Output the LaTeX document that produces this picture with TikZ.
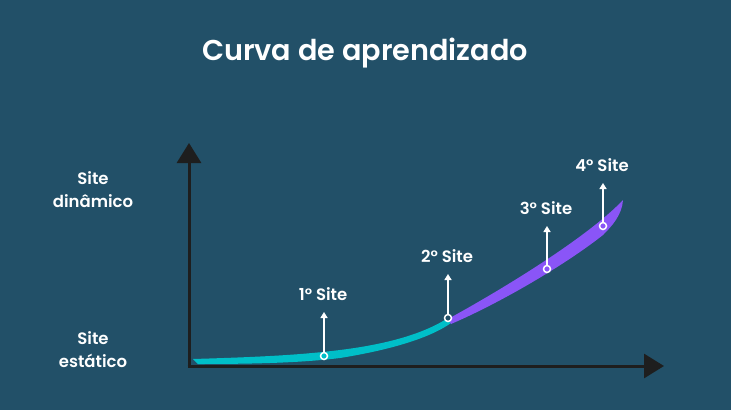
\documentclass[tikz,border=0pt]{standalone}
\usepackage{fontspec}
\setmainfont{Poppins}[BoldFont={Poppins SemiBold}]
\usetikzlibrary{arrows.meta}
\definecolor{bg}{RGB}{34,80,104}
\definecolor{axiscol}{RGB}{30,30,30}
\definecolor{tealc}{RGB}{0,191,200}
\definecolor{purplec}{RGB}{138,85,247}
\tikzset{
  axisline/.style={draw=axiscol, line width=3pt, -{Triangle[length=20pt,width=24pt]}},
  dot/.style={circle, draw=white, line width=1.5pt, minimum size=7pt, inner sep=0pt},
  pin/.style={draw=white, line width=1.5pt, -{Triangle[length=6pt,width=7pt]}},
  lbl/.style={text=white, font=\bfseries\fontsize{16.5}{19}\selectfont},
  side/.style={text=white, font=\bfseries\fontsize{16.5}{23}\selectfont, align=center},
}
\begin{document}
\begin{tikzpicture}[x=1pt,y=-1pt]
\fill[bg] (0,0) rectangle (731,410);
\useasboundingbox (0,0) rectangle (731,410);

\node[text=white, font=\bfseries\fontsize{28.7}{32}\selectfont] (title) at (365,53) {Curva de aprendizado};

% axes
\coordinate (O) at (189,366);
\coordinate (Ytop) at (189,143);
\coordinate (Xend) at (664,366);
\draw[axisline] (189,367.5) -- (Ytop);
\draw[axisline] (187.5,366) -- (Xend);

% teal band
\fill[tealc] (193,359) .. controls (260,357) and (300,355) .. (340,350)
  .. controls (380,345) and (420,336) .. (448,318) -- (451,323)
  .. controls (430,338) and (390,350) .. (340,358)
  .. controls (300,363) and (250,364) .. (198,364) -- cycle;

% purple band
\fill[purplec] (448,319) .. controls (510,285) and (590,235) .. (623,200)
  .. controls (622,215) and (612,226) .. (603,235)
  .. controls (565,265) and (500,303) .. (451,324) -- cycle;

% points
\node[dot, fill=tealc] (c1) at (324,356) {};
\node[dot, fill=bg] (c2) at (448,318) {};
\node[dot, fill=purplec] (c3) at (547,269) {};
\node[dot, fill=purplec] (c4) at (603,226) {};

\coordinate (a1) at (324,312);
\coordinate (a2) at (448,274);
\coordinate (a3) at (547,226);
\coordinate (a4) at (603,183);
\draw[pin] (c1) -- (a1);
\draw[pin] (c2) -- (a2);
\draw[pin] (c3) -- (a3);
\draw[pin] (c4) -- (a4);

\node[lbl] (l1) at (323,294) {1° Site};
\node[lbl] (l2) at (447,256) {2° Site};
\node[lbl] (l3) at (546,208) {3° Site};
\node[lbl] (l4) at (602,165) {4° Site};

\node[side] (dyn) at (93,190) {Site\\dinâmico};
\node[side] (sta) at (93,350) {Site\\estático};
\end{tikzpicture}
\end{document}
